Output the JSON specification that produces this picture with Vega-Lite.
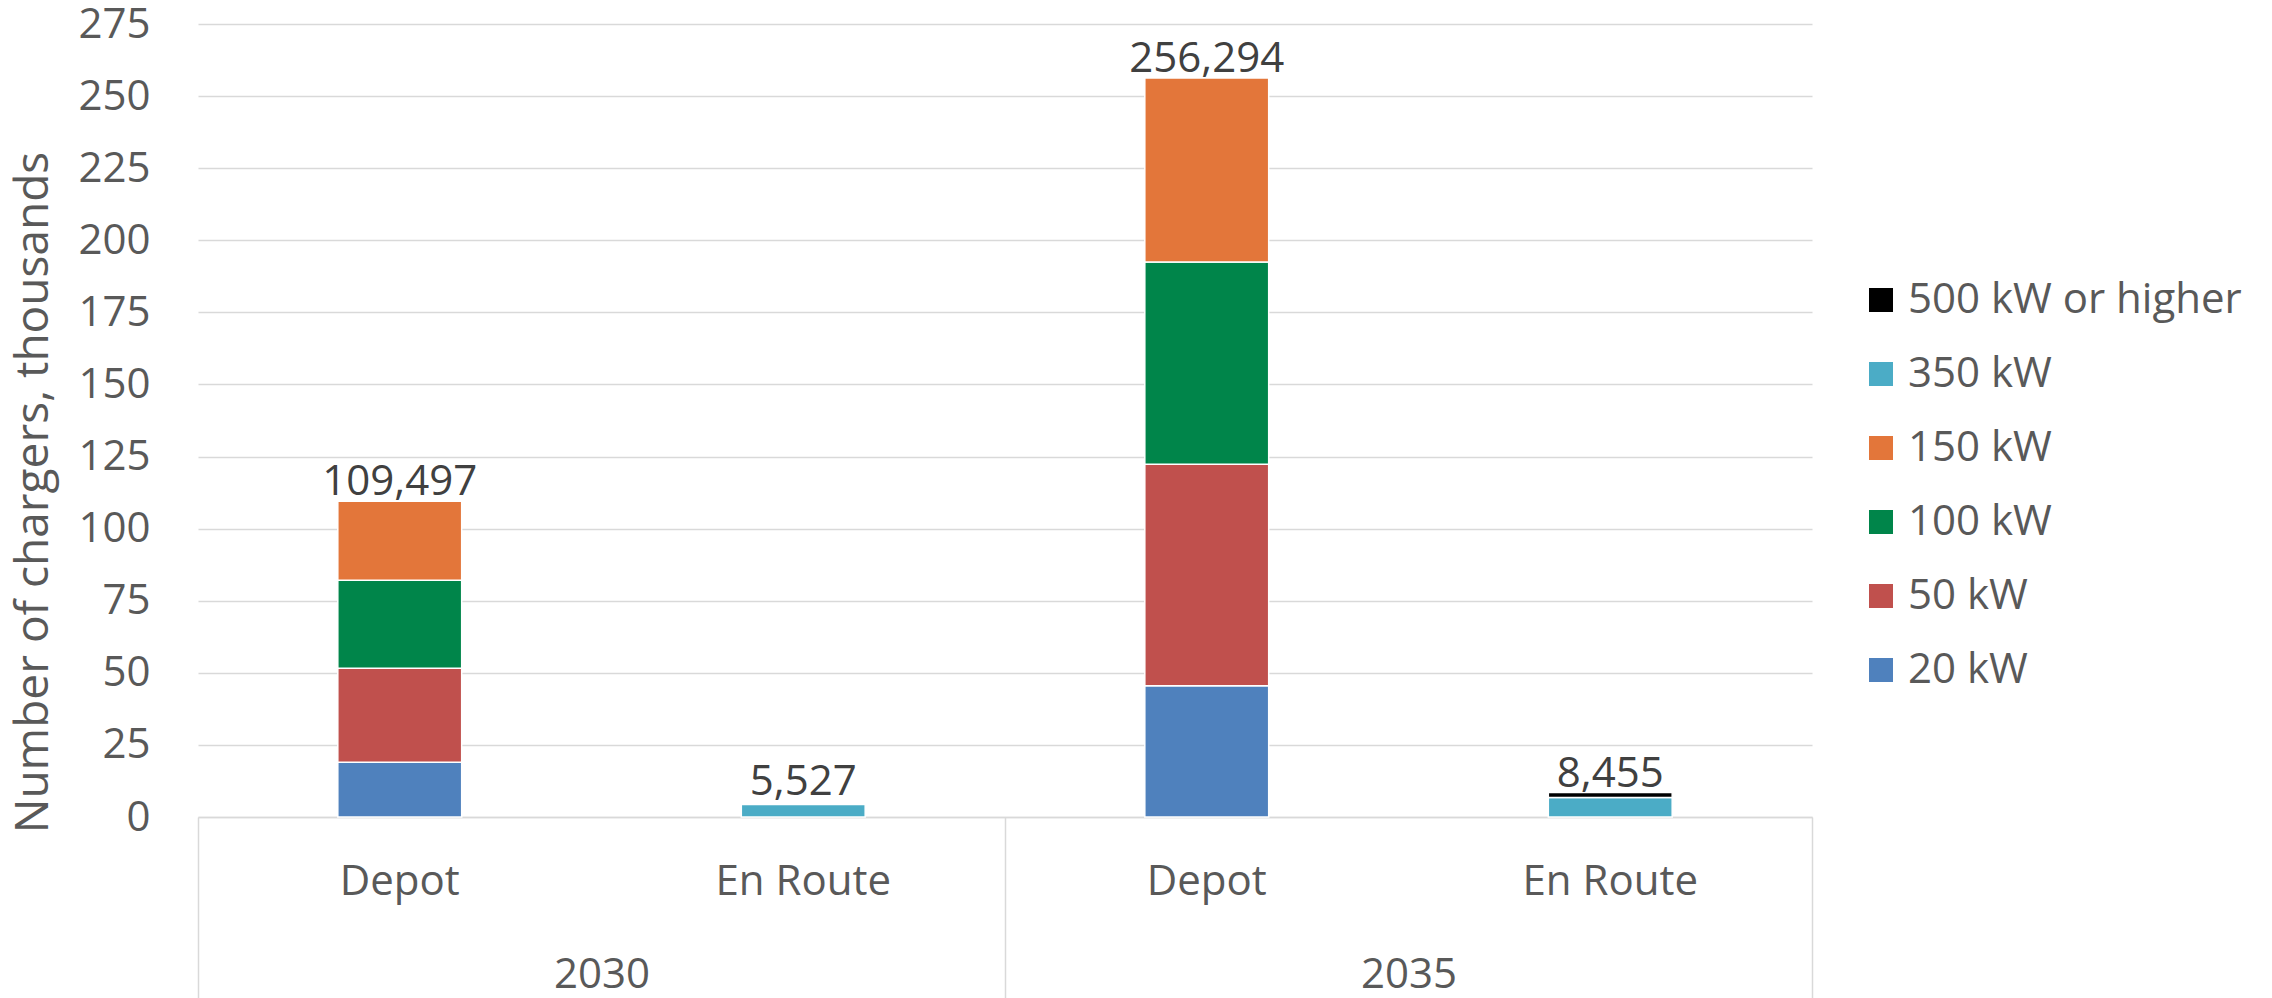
{
  "$schema": "https://vega.github.io/schema/vega-lite/v6.json",
  "width": 1614,
  "height": 793,
  "autosize": {"type": "none"},
  "padding": {"left": 198, "top": 24, "right": 460, "bottom": 181},
  "background": "white",
  "config": {
    "font": "Open Sans",
    "view": {"stroke": null}
  },
  "datasets": {
    "stack": [
      {"year": "2030", "cat": "2030|Depot", "power": "20 kW", "kw": 20, "value": 19.0},
      {"year": "2030", "cat": "2030|Depot", "power": "50 kW", "kw": 50, "value": 32.6},
      {"year": "2030", "cat": "2030|Depot", "power": "100 kW", "kw": 100, "value": 30.5},
      {"year": "2030", "cat": "2030|Depot", "power": "150 kW", "kw": 150, "value": 27.4},
      {"year": "2030", "cat": "2030|En Route", "power": "350 kW", "kw": 350, "value": 4.3},
      {"year": "2035", "cat": "2035|Depot", "power": "20 kW", "kw": 20, "value": 45.5},
      {"year": "2035", "cat": "2035|Depot", "power": "50 kW", "kw": 50, "value": 76.8},
      {"year": "2035", "cat": "2035|Depot", "power": "100 kW", "kw": 100, "value": 70.2},
      {"year": "2035", "cat": "2035|Depot", "power": "150 kW", "kw": 150, "value": 63.8},
      {"year": "2035", "cat": "2035|En Route", "power": "350 kW", "kw": 350, "value": 6.8},
      {"year": "2035", "cat": "2035|En Route", "power": "500 kW or higher", "kw": 500, "value": 1.7}
    ],
    "totals": [
      {"cat": "2030|Depot", "total": 109.497, "label": "109,497"},
      {"cat": "2030|En Route", "total": 5.527, "label": "5,527"},
      {"cat": "2035|Depot", "total": 256.294, "label": "256,294"},
      {"cat": "2035|En Route", "total": 8.455, "label": "8,455"}
    ]
  },
  "layer": [
    {
      "layer": [
        {
          "data": {"name": "stack"},
          "mark": {"type": "bar", "stroke": "white", "strokeWidth": 1.5},
          "encoding": {
            "x": {
              "field": "cat",
              "type": "nominal",
              "scale": {
                "domain": ["2030|Depot", "2030|En Route", "2035|Depot", "2035|En Route"],
                "paddingInner": 0.693,
                "paddingOuter": 0.3465
              },
              "axis": {
                "title": null,
                "orient": "bottom",
                "labelExpr": "split(datum.label, '|')[1]",
                "labelAngle": 0,
                "domain": false,
                "ticks": false,
                "grid": false,
                "labelPadding": 44,
                "labelFontSize": 42,
                "labelColor": "#595959"
              }
            },
            "y": {
              "field": "value",
              "type": "quantitative",
              "stack": "zero",
              "scale": {"domain": [0, 275], "nice": false},
              "axis": {
                "values": [0, 25, 50, 75, 100, 125, 150, 175, 200, 225, 250, 275],
                "title": "Number of chargers, thousands",
                "titleFontSize": 46,
                "titleFontWeight": "normal",
                "titleColor": "#595959",
                "titlePadding": 20,
                "titleY": 468,
                "domain": false,
                "ticks": false,
                "labelPadding": 48,
                "labelFontSize": 42,
                "labelColor": "#595959",
                "grid": true,
                "gridColor": "#d9d9d9",
                "gridWidth": 1.5
              }
            },
            "color": {
              "field": "power",
              "type": "nominal",
              "scale": {
                "domain": ["500 kW or higher", "350 kW", "150 kW", "100 kW", "50 kW", "20 kW"],
                "range": ["#000000", "#4BACC6", "#E3763A", "#00854A", "#C0504D", "#4F81BD"]
              },
              "legend": {
                "title": null,
                "orient": "none",
                "legendX": 1662,
                "legendY": 255,
                "padding": 0,
                "symbolType": "square",
                "symbolSize": 576,
                "symbolStrokeWidth": 0,
                "labelFontSize": 42,
                "labelColor": "#595959",
                "labelLimit": 600,
                "labelOffset": 6,
                "rowPadding": 32
              }
            },
            "order": {"field": "kw", "type": "quantitative", "sort": "ascending"}
          }
        },
        {
          "data": {"name": "totals"},
          "mark": {"type": "text", "baseline": "alphabetic", "dy": -6, "fontSize": 42, "color": "#404040"},
          "encoding": {
            "x": {"field": "cat", "type": "nominal"},
            "y": {"field": "total", "type": "quantitative"},
            "text": {"field": "label"}
          }
        }
      ]
    },
    {
      "data": {"name": "stack"},
      "mark": {"type": "bar", "opacity": 0},
      "encoding": {
        "x": {
          "field": "year",
          "type": "nominal",
          "scale": {"paddingInner": 0, "paddingOuter": 0},
          "axis": {
            "title": null,
            "orient": "bottom",
            "labelAngle": 0,
            "tickBand": "extent",
            "ticks": true,
            "tickSize": 181,
            "tickColor": "#d9d9d9",
            "tickWidth": 1.5,
            "domain": true,
            "domainColor": "#d9d9d9",
            "domainWidth": 1.5,
            "grid": false,
            "labelPadding": -44,
            "labelFontSize": 42,
            "labelColor": "#595959"
          }
        }
      }
    }
  ],
  "resolve": {"scale": {"x": "independent"}}
}
